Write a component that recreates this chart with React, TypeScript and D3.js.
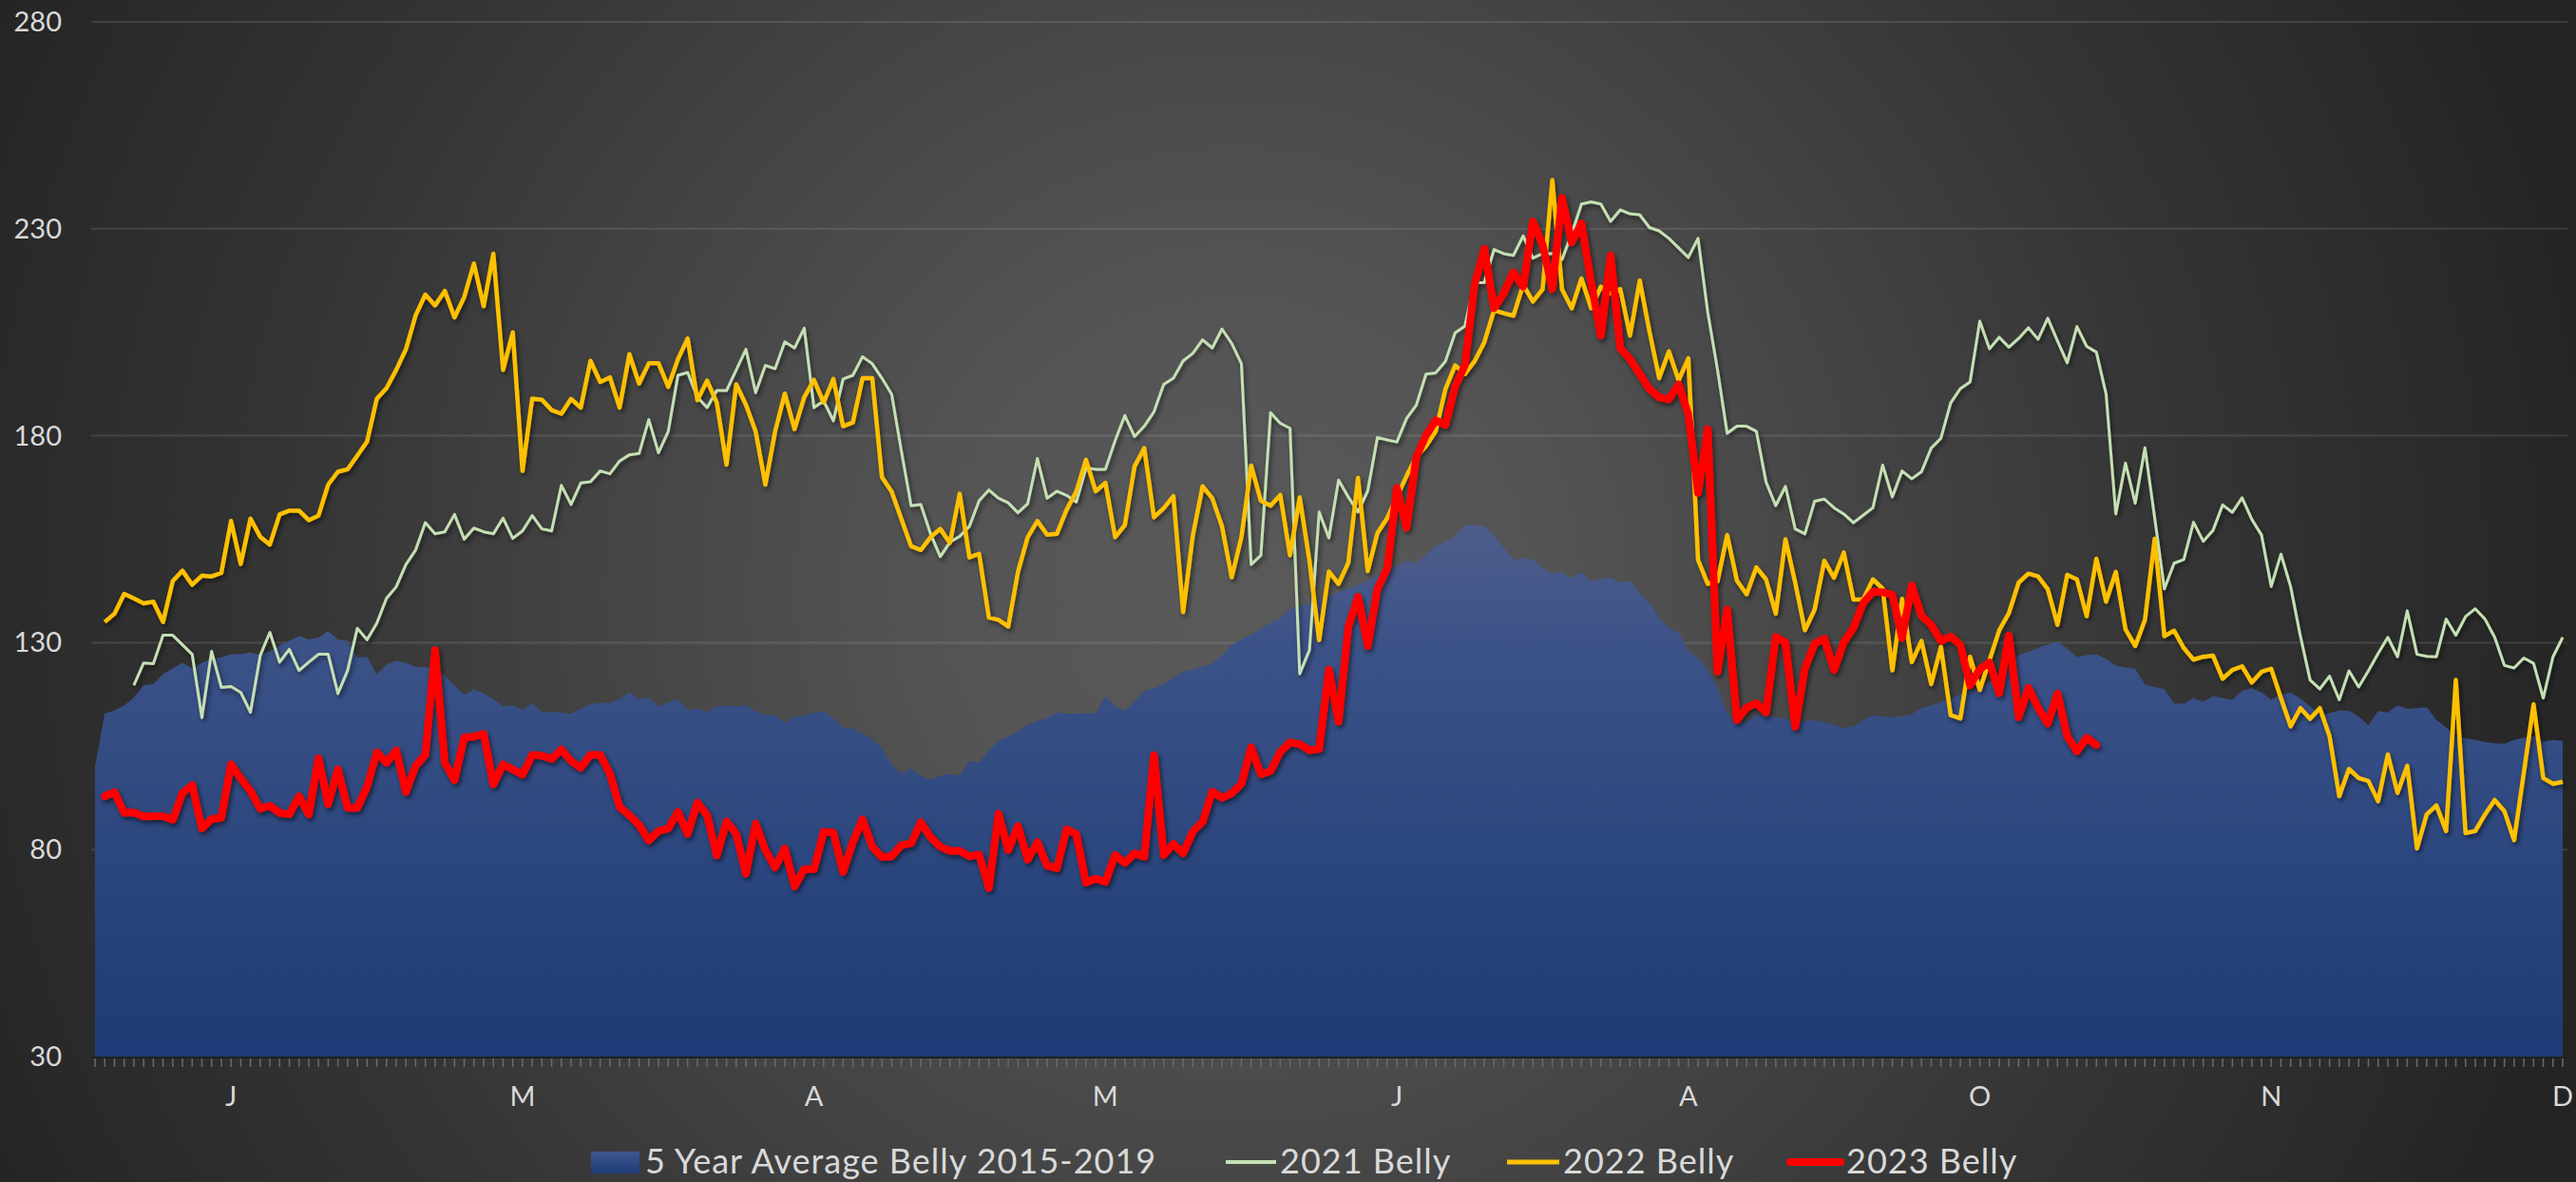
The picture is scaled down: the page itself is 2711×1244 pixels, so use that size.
import React from "react";
import * as d3 from "d3";

const width = 2711;
const height = 1244;
const plot = { left: 100, right: 2697, top: 23, bottom: 1112 };

// y axis and month letters (category index of each label)
const yTicks = [30, 80, 130, 180, 230, 280];
const monthLabels = ["J", "M", "A", "M", "J", "A", "O", "N", "D"];
const monthLabelIdx = [14, 44, 74, 104, 134, 164, 194, 224, 254];

// 5 year average belly 2015-2019, one value per trading day (index 0..254)
const avg5yr = [
  100, 112.8, 113.6, 114.8, 116.7, 119.7, 120.0, 122.4, 123.8, 125.1,
  123.8, 125.1, 126.2, 126.4, 127.2, 127.2, 127.6, 127.0, 127.9, 129.3,
  130.5, 131.6, 130.8, 131.2, 132.8, 130.7, 130.5, 126.4, 126.6, 122.3,
  124.7, 125.6, 125.1, 124.1, 124.1, 123.6, 122.0, 119.7, 117.4, 118.7,
  117.7, 116.3, 114.6, 114.9, 113.8, 115.4, 113.2, 113.2, 113.1, 112.8,
  114.0, 115.1, 115.5, 115.4, 116.4, 118.0, 116.4, 116.7, 114.6, 115.5,
  116.4, 113.6, 114.2, 113.2, 114.6, 114.8, 114.6, 114.9, 113.4, 112.5,
  112.5, 110.6, 112.1, 112.3, 113.1, 113.4, 111.7, 109.4, 109.3, 108.0,
  106.7, 104.5, 100.5, 98.3, 99.6, 97.9, 96.8, 97.9, 98.3, 97.8,
  101.4, 101.1, 104.0, 106.3, 107.3, 108.6, 110.2, 111.1, 111.7, 113.2,
  112.8, 112.8, 113.0, 113.0, 117.0, 114.7, 113.5, 115.8, 118.4, 119.0,
  120.0, 121.5, 123.1, 123.5, 124.3, 125.0, 126.9, 129.5, 130.8, 132.0,
  133.3, 134.8, 136.0, 138.2, 138.8, 139.4, 140.3, 141.3, 142.2, 143.1,
  144.0, 145.0, 146.2, 147.8, 148.5, 149.8, 149.2, 151.2, 153.3, 154.4,
  155.8, 158.5, 158.3, 158.2, 156.0, 153.0, 150.0, 150.4, 150.0, 148.0,
  146.8, 147.0, 145.6, 147.0, 144.9, 145.5, 145.7, 144.5, 145.0, 142.0,
  139.6, 136.0, 133.5, 132.5, 128.0, 126.2, 123.5, 119.0, 112.8, 110.3,
  111.0, 112.5, 112.6, 112.0, 111.5, 111.0, 111.1, 111.2, 110.8, 110.1,
  109.3, 109.8, 111.2, 112.5, 112.1, 112.0, 112.2, 112.7, 114.2, 114.8,
  115.7, 116.5, 117.5, 118.5, 118.8, 120.5, 122.5, 125.0, 127.0, 127.8,
  128.7, 129.5, 130.3, 128.5, 126.5, 127.0, 127.2, 126.0, 124.5, 124.0,
  123.7, 119.8, 119.3, 118.8, 115.3, 115.3, 116.6, 115.7, 117.1, 116.6,
  116.2, 118.4, 119.0, 118.0, 116.2, 117.5, 117.9, 116.5, 114.6, 112.5,
  113.0, 113.6, 113.5, 112.2, 110.0, 113.5, 113.1, 114.9, 114.0, 114.2,
  114.4, 111.3, 109.5, 107.5, 106.9, 106.5, 106.0, 105.7, 105.6, 106.5,
  107.0, 107.4, 106.1, 106.5, 106.3,
];

// 2021 belly, first value sits on index 4
const belly2021Start = 4;
const belly2021 = [
  119.7, 125.1, 124.9, 131.8, 131.8, 129.5, 127.2, 111.9, 127.9, 119.2,
  119.4, 118.0, 113.2, 126.9, 132.5, 125.3, 128.4, 123.3, 125.3, 127.2,
  127.2, 117.7, 123.3, 133.5, 130.7, 134.7, 140.7, 143.5, 148.9, 152.4,
  159.0, 156.3, 156.8, 161.0, 155.0, 157.7, 156.8, 156.3, 160.1, 155.2,
  157.0, 160.7, 157.5, 157.0, 168.0, 163.4, 168.6, 168.9, 171.5, 170.8,
  173.9, 175.4, 175.7, 183.9, 175.9, 181.0, 194.6, 195.3, 189.3, 186.8,
  190.9, 190.9, 195.9, 200.9, 190.4, 197.0, 196.2, 202.7, 201.2, 206.0,
  186.8, 188.4, 183.6, 193.7, 194.6, 199.1, 197.4, 193.9, 190.0, 176.3,
  163.1, 163.4, 156.3, 150.8, 154.3, 155.7, 158.1, 164.3, 166.9, 164.9,
  163.8, 161.4, 163.6, 174.5, 164.9, 166.6, 165.6, 164.0, 172.2, 171.9,
  171.9, 178.8, 184.9, 179.8, 182.3, 185.8, 192.4, 193.9, 198.1, 199.9,
  203.2, 201.2, 205.8, 202.3, 197.4, 148.9, 151.1, 185.6, 183.0, 181.8,
  122.5, 128.2, 161.6, 155.3, 169.3, 165.2, 161.6, 166.7, 179.6, 179.0,
  178.5, 184.2, 187.4, 194.9, 195.2, 198.0, 204.9, 206.5, 217.0, 217.0,
  225.0, 224.0, 223.6, 228.3, 222.9, 224.0, 224.0, 222.6, 228.8, 236.0,
  236.5, 236.0, 231.8, 234.6, 233.6, 233.4, 230.3, 229.5, 227.7, 225.4,
  223.1, 227.7, 209.8, 196.0, 180.6, 182.3, 182.3, 181.1, 168.8, 163.1,
  167.8, 157.5, 156.3, 164.2, 164.7, 162.6, 161.1, 159.0, 160.8, 162.6,
  172.9, 165.2, 171.5, 169.6, 171.3, 177.0, 179.4, 187.9, 191.4, 193.0,
  207.7, 201.0, 203.8, 201.4, 203.5, 206.1, 203.3, 208.4, 202.9, 197.6,
  206.4, 201.6, 200.2, 190.1, 161.1, 173.4, 163.7, 177.1, 160.2, 143.0,
  149.2, 150.1, 159.1, 154.5, 157.1, 163.3, 161.5, 165.0, 159.8, 156.0,
  143.6, 151.4, 143.5, 131.6, 121.0, 118.8, 121.9, 116.2, 123.2, 119.3,
  123.2, 127.4, 131.3, 126.6, 137.7, 127.2, 126.7, 126.6, 135.7, 131.8,
  136.3, 138.2, 135.7, 131.3, 124.5, 123.9, 126.3, 125.0, 116.6, 126.6,
  131.3,
];

// 2022 belly, first value sits on index 1
const belly2022Start = 1;
const belly2022 = [
  135.0, 137.0, 141.8, 140.7, 139.5, 139.9, 135.0, 144.9, 147.4, 144.0,
  146.2, 146.0, 146.9, 159.4, 149.0, 160.0, 155.6, 153.7, 161.0, 161.9,
  161.9, 159.6, 160.7, 168.2, 171.3, 171.9, 175.2, 178.6, 188.9, 191.5,
  195.9, 200.9, 209.1, 214.1, 211.5, 215.0, 208.6, 213.5, 221.6, 211.3,
  224.0, 195.9, 205.0, 171.5, 189.0, 188.7, 186.2, 185.3, 188.9, 186.8,
  198.1, 193.0, 194.1, 186.8, 199.7, 192.6, 197.5, 197.5, 191.8, 198.5,
  203.5, 188.6, 193.3, 188.0, 173.0, 192.4, 187.5, 181.0, 168.2, 181.0,
  190.2, 181.6, 189.3, 193.5, 188.0, 193.7, 182.3, 183.2, 193.9, 193.9,
  170.0, 166.5, 159.9, 153.3, 152.4, 155.5, 157.5, 154.1, 166.0, 150.6,
  151.5, 136.1, 135.5, 133.9, 147.1, 155.5, 159.4, 156.1, 156.3, 162.1,
  166.5, 174.2, 166.6, 168.6, 155.5, 158.4, 172.6, 177.0, 160.3, 162.5,
  165.4, 137.4, 155.9, 167.8, 164.9, 158.1, 145.8, 155.5, 172.8, 164.3,
  163.1, 165.7, 151.1, 165.1, 149.8, 130.6, 147.2, 144.2, 149.3, 169.8,
  147.3, 156.5, 160.1, 165.2, 170.3, 174.9, 177.5, 181.1, 191.3, 197.0,
  194.9, 198.0, 202.6, 210.3, 209.6, 209.0, 216.5, 212.4, 215.4, 241.8,
  215.4, 210.8, 218.0, 210.8, 216.0, 214.4, 215.4, 204.2, 217.5, 205.2,
  193.9, 200.4, 193.4, 198.7, 150.0, 144.2, 144.8, 156.0, 145.0, 141.7,
  148.2, 145.3, 137.0, 155.0, 144.5, 133.0, 138.0, 149.8, 145.7, 151.8,
  140.4, 140.5, 145.3, 143.1, 123.3, 140.6, 125.3, 130.4, 120.0, 129.0,
  112.5, 111.7, 126.6, 118.6, 125.8, 133.0, 137.2, 144.5, 146.7, 146.0,
  142.9, 134.3, 146.4, 145.3, 136.4, 150.3, 139.9, 147.1, 133.2, 129.2,
  135.5, 155.1, 131.6, 132.9, 128.7, 125.9, 126.6, 126.9, 121.3, 123.4,
  124.3, 120.4, 123.0, 123.7, 116.6, 109.8, 114.2, 111.6, 114.2, 107.4,
  92.9, 99.5, 97.3, 96.6, 91.7, 103.0, 93.7, 100.3, 80.3, 88.5,
  90.7, 84.5, 121.0, 84.0, 84.5, 88.5, 92.0, 89.3, 82.3, 98.6,
  115.1, 97.3, 95.9, 96.4,
];

// 2023 belly, first value sits on index 1
const belly2023Start = 1;
const belly2023 = [
  92.9, 93.9, 88.9, 89.0, 88.0, 88.1, 88.1, 87.2, 93.7, 95.6,
  85.1, 87.4, 87.7, 100.6, 97.2, 94.2, 89.9, 90.6, 88.9, 88.5,
  92.9, 88.5, 102.1, 91.0, 99.4, 90.1, 90.1, 95.2, 103.5, 101.0,
  104.0, 93.9, 100.2, 102.9, 128.2, 101.0, 96.8, 107.1, 107.3, 108.0,
  95.8, 100.6, 99.4, 98.1, 102.9, 102.7, 101.9, 104.2, 101.4, 99.8,
  102.9, 102.9, 98.3, 90.3, 88.3, 86.0, 82.2, 84.5, 85.1, 89.1,
  83.8, 91.4, 88.3, 78.6, 86.8, 83.8, 74.2, 86.3, 79.9, 75.7,
  80.3, 71.1, 75.3, 75.3, 84.3, 84.1, 74.6, 81.8, 87.3, 80.7,
  78.2, 78.4, 81.1, 81.5, 86.6, 83.0, 80.7, 79.7, 79.7, 78.4,
  78.8, 70.7, 88.7, 79.9, 85.7, 77.6, 81.8, 76.1, 75.5, 84.9,
  83.8, 72.0, 73.0, 72.2, 78.7, 76.8, 79.1, 78.3, 102.8, 78.7,
  81.4, 79.1, 84.4, 86.7, 94.0, 92.5, 93.6, 95.9, 104.7, 98.2,
  99.0, 103.6, 105.9, 105.5, 104.0, 104.3, 123.5, 110.9, 133.8, 141.1,
  129.2, 143.0, 147.9, 167.4, 157.8, 174.9, 180.1, 183.7, 182.6, 191.9,
  197.0, 216.5, 225.2, 210.8, 214.4, 219.5, 216.0, 231.8, 226.2, 215.4,
  237.5, 226.7, 231.3, 217.0, 204.2, 223.6, 201.1, 198.5, 194.9, 191.3,
  189.3, 188.8, 192.4, 185.2, 166.2, 181.6, 123.0, 138.0, 111.3, 114.3,
  115.4, 113.1, 131.4, 130.1, 109.7, 123.8, 129.8, 131.0, 123.4, 130.1,
  133.6, 139.6, 142.3, 142.2, 141.6, 131.1, 143.8, 136.5, 134.3, 130.4,
  131.5, 129.5, 119.7, 123.6, 125.2, 117.8, 131.7, 112.0, 119.1, 114.3,
  110.5, 117.7, 107.4, 103.8, 107.0, 105.3,
];

const legendNames = ["5 Year Average Belly 2015-2019", "2021 Belly", "2022 Belly", "2023 Belly"];

const font = "Lato, 'Liberation Sans', sans-serif";
const textColor = "#d9d9d9";

export default function App() {
  const x = d3.scaleLinear().domain([0, avg5yr.length - 1]).range([plot.left, plot.right]);
  const y = d3.scaleLinear().domain([30, 280]).range([plot.bottom, plot.top]);

  const area = d3.area<number>()
    .x((d, i) => x(i))
    .y0(y(30))
    .y1(d => y(d));

  const lineFrom = (start: number) =>
    d3.line<number>()
      .x((d, i) => x(i + start))
      .y(d => y(d));

  const ticks = d3.range(avg5yr.length);

  return (
    <svg width={width} height={height} style={{ position: "absolute", left: 0, top: 0, display: "block" }}>
      <defs>
        <radialGradient id="bg" gradientUnits="userSpaceOnUse" cx="1300" cy="620" r="1450">
          <stop offset="0" stopColor="#5a5a5a" />
          <stop offset="0.22" stopColor="#545454" />
          <stop offset="0.45" stopColor="#454545" />
          <stop offset="0.7" stopColor="#343434" />
          <stop offset="0.9" stopColor="#2a2a2a" />
          <stop offset="1" stopColor="#242424" />
        </radialGradient>
        <linearGradient id="areaFill" gradientUnits="userSpaceOnUse" x1="0" y1={y(160)} x2="0" y2={y(30)}>
          <stop offset="0" stopColor="#4f5d8b" />
          <stop offset="0.25" stopColor="#3b5287" />
          <stop offset="1" stopColor="#1d3b76" />
        </linearGradient>
        <linearGradient id="swatchFill" x1="0" y1="0" x2="0" y2="1">
          <stop offset="0" stopColor="#3f5790" />
          <stop offset="1" stopColor="#1e3b78" />
        </linearGradient>
        <filter id="shadow" x="-2%" y="-5%" width="104%" height="115%">
          <feDropShadow dx="2" dy="3" stdDeviation="2.5" floodColor="#000" floodOpacity="0.55" />
        </filter>
      </defs>

      <rect width={width} height={height} fill="url(#bg)" />

      {yTicks.filter(t => t > 30).map(t => (
        <line key={t} x1={96} x2={2702} y1={y(t)} y2={y(t)} stroke="#ffffff" strokeOpacity={0.11} strokeWidth={2} />
      ))}

      <path d={area(avg5yr) || ""} fill="url(#areaFill)" />

      <line x1={96} x2={2702} y1={plot.bottom + 1} y2={plot.bottom + 1} stroke="#1f1f1f" strokeWidth={2} />
      {ticks.map(i => (
        <line key={i} x1={x(i)} x2={x(i)} y1={plot.bottom + 2} y2={plot.bottom + 11} stroke="#6a6a6a" strokeWidth={1.5} />
      ))}

      <g filter="url(#shadow)" fill="none" strokeLinejoin="round">
        <path d={lineFrom(belly2021Start)(belly2021) || ""} stroke="#c5e0b4" strokeWidth={3} />
        <path d={lineFrom(belly2022Start)(belly2022) || ""} stroke="#ffc000" strokeWidth={4.5} />
        <path d={lineFrom(belly2023Start)(belly2023) || ""} stroke="#ff0000" strokeWidth={8} strokeLinecap="round" />
      </g>

      {yTicks.map(t => (
        <text key={t} x={65} y={y(t) + 10} textAnchor="end" fontFamily={font} fontSize={29} fill={textColor}>{t}</text>
      ))}

      {monthLabels.map((m, k) => (
        <text key={k} x={x(monthLabelIdx[k])} y={1164} textAnchor="middle" fontFamily={font} fontSize={29} fill={textColor}>{m}</text>
      ))}

      <g fontFamily={font} fontSize={36} fill={textColor} letterSpacing={1}>
        <rect x={622} y={1212} width={51} height={23} fill="url(#swatchFill)" />
        <text x={679} y={1235}>{legendNames[0]}</text>
        <line x1={1290} x2={1343} y1={1223} y2={1223} stroke="#c5e0b4" strokeWidth={4} />
        <text x={1347} y={1235}>{legendNames[1]}</text>
        <line x1={1586} x2={1641} y1={1223} y2={1223} stroke="#ffc000" strokeWidth={5} />
        <text x={1645} y={1235}>{legendNames[2]}</text>
        <line x1={1884} x2={1937} y1={1223} y2={1223} stroke="#ff0000" strokeWidth={8} strokeLinecap="round" />
        <text x={1943} y={1235}>{legendNames[3]}</text>
      </g>
    </svg>
  );
}
